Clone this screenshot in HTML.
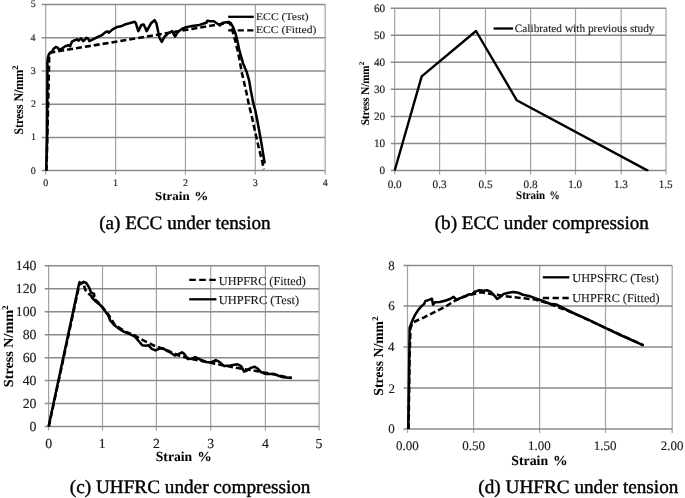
<!DOCTYPE html>
<html><head><meta charset="utf-8"><style>
html,body{margin:0;padding:0;background:#fff;}
body{width:685px;height:498px;overflow:hidden;}
svg{display:block;filter:grayscale(1) blur(0.35px);}
text{font-family:'Liberation Serif', serif;text-rendering:geometricPrecision;}
.cap{stroke-width:0.4px;fill:#000;stroke:#000}
.tick{stroke-width:0.15px;fill:#1a1a1a;stroke:#1a1a1a}
.leg{stroke-width:0.12px;fill:#1a1a1a;stroke:#1a1a1a}
.ttl{stroke-width:0.05px;fill:#000;stroke:#000}
</style></head><body>
<svg width="685" height="498" viewBox="0 0 685 498">
<rect width="685" height="498" fill="#fff"/>
<line x1="45.70" y1="4.50" x2="45.70" y2="174.60" stroke="#a2a2a2" stroke-width="1.2"/>
<line x1="115.58" y1="4.50" x2="115.58" y2="174.60" stroke="#a2a2a2" stroke-width="1.2"/>
<line x1="185.45" y1="4.50" x2="185.45" y2="174.60" stroke="#a2a2a2" stroke-width="1.2"/>
<line x1="255.32" y1="4.50" x2="255.32" y2="174.60" stroke="#a2a2a2" stroke-width="1.2"/>
<line x1="325.20" y1="4.50" x2="325.20" y2="174.60" stroke="#a2a2a2" stroke-width="1.2"/>
<line x1="41.70" y1="170.60" x2="325.20" y2="170.60" stroke="#8a8a8a" stroke-width="1.5"/>
<line x1="41.70" y1="137.38" x2="325.20" y2="137.38" stroke="#8a8a8a" stroke-width="1.5"/>
<line x1="41.70" y1="104.16" x2="325.20" y2="104.16" stroke="#8a8a8a" stroke-width="1.5"/>
<line x1="41.70" y1="70.94" x2="325.20" y2="70.94" stroke="#8a8a8a" stroke-width="1.5"/>
<line x1="41.70" y1="37.72" x2="325.20" y2="37.72" stroke="#8a8a8a" stroke-width="1.5"/>
<line x1="41.70" y1="4.50" x2="325.20" y2="4.50" stroke="#8a8a8a" stroke-width="1.5"/>
<text class="tick" x="35.78" y="173.50" font-size="10" text-anchor="end">0</text>
<text class="tick" x="36.00" y="140.28" font-size="10" text-anchor="end">1</text>
<text class="tick" x="35.95" y="107.06" font-size="10" text-anchor="end">2</text>
<text class="tick" x="35.79" y="73.84" font-size="10" text-anchor="end">3</text>
<text class="tick" x="35.56" y="40.62" font-size="10" text-anchor="end">4</text>
<text class="tick" x="35.79" y="7.40" font-size="10" text-anchor="end">5</text>
<text class="tick" x="43.20" y="186.00" font-size="10">0</text>
<text class="tick" x="112.94" y="186.00" font-size="10">1</text>
<text class="tick" x="183.01" y="186.00" font-size="10">2</text>
<text class="tick" x="252.78" y="186.00" font-size="10">3</text>
<text class="tick" x="322.68" y="186.00" font-size="10">4</text>
<text class="ttl" x="155.11" y="200.00" font-size="12.2" font-weight="bold" textLength="34.48" lengthAdjust="spacingAndGlyphs">Strain</text>
<text class="ttl" x="194.25" y="200.00" font-size="12.2" font-weight="bold" textLength="14.18" lengthAdjust="spacingAndGlyphs">%</text>
<text class="ttl" transform="translate(22.60,133.90) rotate(-90)" font-size="13.0" font-weight="bold"><tspan x="-0.63" y="0" textLength="64.63" lengthAdjust="spacingAndGlyphs">Stress N/mm</tspan><tspan x="64.20" y="-4.20" font-size="8.6">2</tspan></text>
<clipPath id="ca"><rect x="42.70" y="1.50" width="285.50" height="169.90"/></clipPath><g clip-path="url(#ca)">
<path d="M46.5,170.6 L47.5,130.0 L48.5,90.0 L49.2,57.0 L49.8,53.5 L51.4,52.5 L229.6,22.5 L232.0,29.1 L234.4,37.5 L236.8,47.2 L239.2,58.0 L241.9,73.1 L246.1,91.1 L249.1,105.6 L251.5,115.0 L254.6,129.6 L259.1,149.1 L262.4,162.2 L263.7,169.3" fill="none" stroke="#000" stroke-width="2.55" stroke-linejoin="round" stroke-linecap="butt" stroke-dasharray="6 3"/>
<path d="M46.2,170.6 L46.8,150.0 L47.2,130.0 L47.3,100.0 L47.4,80.0 L47.4,62.0 L47.8,58.0 L48.6,55.0 L50.2,52.5 L52.0,51.8 L53.5,48.9 L55.7,47.1 L57.5,47.5 L59.3,50.1 L61.7,48.7 L65.3,46.3 L68.3,45.1 L70.1,46.3 L71.9,41.7 L74.9,40.2 L77.3,39.3 L78.6,40.7 L81.0,38.3 L83.4,41.1 L86.4,37.8 L88.2,38.7 L89.4,41.1 L93.0,39.3 L96.6,37.5 L101.4,35.4 L105.7,32.0 L107.5,31.4 L108.7,32.7 L112.3,29.6 L117.2,26.9 L122.0,25.9 L125.7,24.2 L129.3,23.3 L134.7,21.8 L135.9,23.3 L138.3,31.1 L141.3,25.1 L143.7,24.5 L146.7,31.1 L151.0,23.3 L154.6,20.2 L156.4,23.3 L158.2,31.7 L159.4,37.7 L161.8,41.9 L164.2,37.1 L167.8,33.5 L172.0,31.1 L175.1,36.5 L177.5,32.3 L182.3,28.7 L186.0,27.2 L192.2,26.1 L199.5,24.9 L203.1,23.7 L206.7,22.5 L207.3,20.7 L210.3,21.3 L213.9,21.3 L217.5,23.7 L219.9,25.5 L222.3,23.1 L224.8,22.5 L228.4,21.9 L230.8,23.1 L233.2,27.3 L235.6,33.9 L237.4,41.1 L239.2,49.6 L240.7,55.0 L243.1,63.4 L246.7,71.9 L249.1,80.3 L250.9,91.1 L253.3,103.2 L255.2,110.0 L257.8,123.0 L260.4,137.4 L262.4,149.1 L264.7,163.5" fill="none" stroke="#000" stroke-width="2.55" stroke-linejoin="round" stroke-linecap="butt"/>
</g>
<path d="M228.2,16.8 L253.8,16.8" fill="none" stroke="#000" stroke-width="2.3" stroke-linejoin="round" stroke-linecap="butt"/>
<path d="M228.2,30.4 L253.5,30.4" fill="none" stroke="#000" stroke-width="2.3" stroke-linejoin="round" stroke-linecap="butt" stroke-dasharray="6.2 3.3"/>
<text class="leg" x="255.97" y="20.10" font-size="10.3" font-weight="normal" textLength="52.74" lengthAdjust="spacingAndGlyphs">ECC (Test)</text>
<text class="leg" x="255.96" y="33.30" font-size="10.3" font-weight="normal" textLength="60.45" lengthAdjust="spacingAndGlyphs">ECC (Fitted)</text>
<line x1="394.70" y1="8.20" x2="394.70" y2="174.50" stroke="#a2a2a2" stroke-width="1.2"/>
<line x1="439.60" y1="8.20" x2="439.60" y2="174.50" stroke="#a2a2a2" stroke-width="1.2"/>
<line x1="485.50" y1="8.20" x2="485.50" y2="174.50" stroke="#a2a2a2" stroke-width="1.2"/>
<line x1="530.60" y1="8.20" x2="530.60" y2="174.50" stroke="#a2a2a2" stroke-width="1.2"/>
<line x1="575.50" y1="8.20" x2="575.50" y2="174.50" stroke="#a2a2a2" stroke-width="1.2"/>
<line x1="621.20" y1="8.20" x2="621.20" y2="174.50" stroke="#a2a2a2" stroke-width="1.2"/>
<line x1="666.00" y1="8.20" x2="666.00" y2="174.50" stroke="#a2a2a2" stroke-width="1.2"/>
<line x1="390.70" y1="170.50" x2="666.00" y2="170.50" stroke="#8a8a8a" stroke-width="1.5"/>
<line x1="390.70" y1="143.45" x2="666.00" y2="143.45" stroke="#8a8a8a" stroke-width="1.5"/>
<line x1="390.70" y1="116.40" x2="666.00" y2="116.40" stroke="#8a8a8a" stroke-width="1.5"/>
<line x1="390.70" y1="89.35" x2="666.00" y2="89.35" stroke="#8a8a8a" stroke-width="1.5"/>
<line x1="390.70" y1="62.30" x2="666.00" y2="62.30" stroke="#8a8a8a" stroke-width="1.5"/>
<line x1="390.70" y1="35.25" x2="666.00" y2="35.25" stroke="#8a8a8a" stroke-width="1.5"/>
<line x1="390.70" y1="8.20" x2="666.00" y2="8.20" stroke="#8a8a8a" stroke-width="1.5"/>
<text class="tick" x="385.13" y="174.20" font-size="11.2" text-anchor="end">0</text>
<text class="tick" x="385.13" y="147.15" font-size="11.2" text-anchor="end">10</text>
<text class="tick" x="385.13" y="120.10" font-size="11.2" text-anchor="end">20</text>
<text class="tick" x="385.13" y="93.05" font-size="11.2" text-anchor="end">30</text>
<text class="tick" x="385.13" y="66.00" font-size="11.2" text-anchor="end">40</text>
<text class="tick" x="385.13" y="38.95" font-size="11.2" text-anchor="end">50</text>
<text class="tick" x="385.13" y="11.90" font-size="11.2" text-anchor="end">60</text>
<text class="tick" x="387.70" y="187.90" font-size="11.2">0.0</text>
<text class="tick" x="432.61" y="187.90" font-size="11.2">0.3</text>
<text class="tick" x="478.51" y="187.90" font-size="11.2">0.5</text>
<text class="tick" x="523.60" y="187.90" font-size="11.2">0.8</text>
<text class="tick" x="568.22" y="187.90" font-size="11.2">1.0</text>
<text class="tick" x="613.93" y="187.90" font-size="11.2">1.3</text>
<text class="tick" x="658.73" y="187.90" font-size="11.2">1.5</text>
<text class="ttl" x="516.12" y="199.40" font-size="11.8" font-weight="bold" textLength="29.04" lengthAdjust="spacingAndGlyphs">Strain</text>
<text class="ttl" x="549.45" y="199.40" font-size="11.8" font-weight="bold" textLength="10.20" lengthAdjust="spacingAndGlyphs">%</text>
<text class="ttl" transform="translate(368.60,124.70) rotate(-90)" font-size="11.6" font-weight="bold"><tspan x="-0.58" y="0" textLength="59.77" lengthAdjust="spacingAndGlyphs">Stress N/mm</tspan><tspan x="59.39" y="-4.80" font-size="7.2">2</tspan></text>
<clipPath id="cb"><rect x="391.70" y="5.20" width="277.30" height="166.10"/></clipPath><g clip-path="url(#cb)">
<path d="M394.7,170.5 L421.7,76.4 L476.0,31.0 L516.7,100.2 L648.2,170.9" fill="none" stroke="#000" stroke-width="2.4" stroke-linejoin="round" stroke-linecap="butt"/>
</g>
<path d="M493.6,28.5 L513.1,28.5" fill="none" stroke="#000" stroke-width="2.3" stroke-linejoin="round" stroke-linecap="butt"/>
<text class="leg" x="514.73" y="31.60" font-size="11.2" font-weight="normal" textLength="139.81" lengthAdjust="spacingAndGlyphs">Calibrated with previous study</text>
<line x1="48.60" y1="265.80" x2="48.60" y2="430.50" stroke="#a2a2a2" stroke-width="1.2"/>
<line x1="102.50" y1="265.80" x2="102.50" y2="430.50" stroke="#a2a2a2" stroke-width="1.2"/>
<line x1="156.40" y1="265.80" x2="156.40" y2="430.50" stroke="#a2a2a2" stroke-width="1.2"/>
<line x1="210.70" y1="265.80" x2="210.70" y2="430.50" stroke="#a2a2a2" stroke-width="1.2"/>
<line x1="265.40" y1="265.80" x2="265.40" y2="430.50" stroke="#a2a2a2" stroke-width="1.2"/>
<line x1="319.10" y1="265.80" x2="319.10" y2="430.50" stroke="#a2a2a2" stroke-width="1.2"/>
<line x1="44.70" y1="426.50" x2="319.20" y2="426.50" stroke="#8a8a8a" stroke-width="1.5"/>
<line x1="44.70" y1="403.54" x2="319.20" y2="403.54" stroke="#8a8a8a" stroke-width="1.5"/>
<line x1="44.70" y1="380.59" x2="319.20" y2="380.59" stroke="#8a8a8a" stroke-width="1.5"/>
<line x1="44.70" y1="357.63" x2="319.20" y2="357.63" stroke="#8a8a8a" stroke-width="1.5"/>
<line x1="44.70" y1="334.67" x2="319.20" y2="334.67" stroke="#8a8a8a" stroke-width="1.5"/>
<line x1="44.70" y1="311.71" x2="319.20" y2="311.71" stroke="#8a8a8a" stroke-width="1.5"/>
<line x1="44.70" y1="288.76" x2="319.20" y2="288.76" stroke="#8a8a8a" stroke-width="1.5"/>
<line x1="44.70" y1="265.80" x2="319.20" y2="265.80" stroke="#8a8a8a" stroke-width="1.5"/>
<text class="tick" x="36.53" y="431.05" font-size="13.8" text-anchor="end">0</text>
<text class="tick" x="36.53" y="408.09" font-size="13.8" text-anchor="end">20</text>
<text class="tick" x="36.53" y="385.14" font-size="13.8" text-anchor="end">40</text>
<text class="tick" x="36.53" y="362.18" font-size="13.8" text-anchor="end">60</text>
<text class="tick" x="36.53" y="339.22" font-size="13.8" text-anchor="end">80</text>
<text class="tick" x="36.53" y="316.26" font-size="13.8" text-anchor="end">100</text>
<text class="tick" x="36.53" y="293.31" font-size="13.8" text-anchor="end">120</text>
<text class="tick" x="36.53" y="270.35" font-size="13.8" text-anchor="end">140</text>
<text class="tick" x="45.15" y="448.00" font-size="13.8">0</text>
<text class="tick" x="98.86" y="448.00" font-size="13.8">1</text>
<text class="tick" x="153.03" y="448.00" font-size="13.8">2</text>
<text class="tick" x="207.19" y="448.00" font-size="13.8">3</text>
<text class="tick" x="261.92" y="448.00" font-size="13.8">4</text>
<text class="tick" x="315.52" y="448.00" font-size="13.8">5</text>
<text class="ttl" x="155.77" y="460.80" font-size="13.8" font-weight="bold" textLength="36.33" lengthAdjust="spacingAndGlyphs">Strain</text>
<text class="ttl" x="197.21" y="460.80" font-size="13.8" font-weight="bold" textLength="14.56" lengthAdjust="spacingAndGlyphs">%</text>
<text class="ttl" transform="translate(12.60,386.40) rotate(-90)" font-size="13.8" font-weight="bold"><tspan x="-0.75" y="0" textLength="77.09" lengthAdjust="spacingAndGlyphs">Stress N/mm</tspan><tspan x="76.54" y="-4.60" font-size="8.6">2</tspan></text>
<clipPath id="cc"><rect x="45.70" y="262.80" width="276.50" height="164.50"/></clipPath><g clip-path="url(#cc)">
<path d="M48.8,426.5 L79.6,283.5 L83.3,282.8 L85.3,289.9 L88.5,293.5 L94.0,298.5 L100.0,304.0 L108.0,314.0 L114.5,324.5 L124.1,331.0 L134.9,335.5 L139.8,338.6 L145.8,341.6 L153.0,345.2 L157.8,347.0 L167.5,350.5 L179.6,355.8 L194.1,359.5 L218.2,364.3 L237.5,368.0 L255.7,370.9 L270.0,373.5 L291.8,378.1" fill="none" stroke="#000" stroke-width="2.55" stroke-linejoin="round" stroke-linecap="butt" stroke-dasharray="6 3"/>
<path d="M48.6,426.5 L79.2,283.0 L79.6,282.2 L81.5,283.5 L83.7,281.8 L86.1,283.0 L86.9,283.8 L89.3,287.9 L90.9,292.3 L94.1,293.9 L94.3,295.9 L91.9,297.6 L94.9,300.7 L98.9,303.9 L100.0,304.8 L104.8,310.8 L108.4,315.7 L110.2,320.5 L114.5,325.3 L119.3,328.9 L124.1,331.9 L128.9,333.7 L134.9,336.7 L138.6,341.0 L142.2,345.2 L145.8,345.8 L148.2,345.2 L151.8,348.8 L155.4,350.4 L159.0,348.8 L162.7,348.2 L167.5,351.2 L170.0,352.3 L174.8,355.5 L178.4,354.1 L182.0,352.3 L184.5,354.1 L187.5,358.9 L191.7,358.7 L195.3,357.1 L200.1,359.5 L206.1,361.9 L211.0,362.5 L215.8,360.1 L219.4,361.9 L224.2,366.1 L230.2,365.5 L237.5,364.3 L241.1,366.1 L244.1,371.6 L247.2,370.3 L250.8,367.9 L254.5,366.7 L257.5,368.5 L261.1,372.1 L265.3,373.9 L273.7,373.9 L278.6,375.7 L283.4,377.3 L291.8,378.1" fill="none" stroke="#000" stroke-width="2.55" stroke-linejoin="round" stroke-linecap="butt"/>
</g>
<path d="M189.2,279.9 L215.8,279.9" fill="none" stroke="#000" stroke-width="2.3" stroke-linejoin="round" stroke-linecap="butt" stroke-dasharray="6.6 3.4"/>
<path d="M189.2,299.3 L216.4,299.3" fill="none" stroke="#000" stroke-width="2.3" stroke-linejoin="round" stroke-linecap="butt"/>
<text class="leg" x="218.84" y="284.60" font-size="12.1" font-weight="normal" textLength="87.09" lengthAdjust="spacingAndGlyphs">UHPFRC (Fitted)</text>
<text class="leg" x="218.84" y="303.60" font-size="12.1" font-weight="normal" textLength="80.30" lengthAdjust="spacingAndGlyphs">UHPFRC (Test)</text>
<line x1="407.50" y1="265.50" x2="407.50" y2="432.90" stroke="#a2a2a2" stroke-width="1.2"/>
<line x1="473.60" y1="265.50" x2="473.60" y2="432.90" stroke="#a2a2a2" stroke-width="1.2"/>
<line x1="539.60" y1="265.50" x2="539.60" y2="432.90" stroke="#a2a2a2" stroke-width="1.2"/>
<line x1="605.50" y1="265.50" x2="605.50" y2="432.90" stroke="#a2a2a2" stroke-width="1.2"/>
<line x1="672.20" y1="265.50" x2="672.20" y2="432.90" stroke="#a2a2a2" stroke-width="1.2"/>
<line x1="403.50" y1="428.90" x2="672.20" y2="428.90" stroke="#8a8a8a" stroke-width="1.5"/>
<line x1="403.50" y1="388.10" x2="672.20" y2="388.10" stroke="#8a8a8a" stroke-width="1.5"/>
<line x1="403.50" y1="346.90" x2="672.20" y2="346.90" stroke="#8a8a8a" stroke-width="1.5"/>
<line x1="403.50" y1="305.90" x2="672.20" y2="305.90" stroke="#8a8a8a" stroke-width="1.5"/>
<line x1="403.50" y1="265.50" x2="672.20" y2="265.50" stroke="#8a8a8a" stroke-width="1.5"/>
<text class="tick" x="394.80" y="433.30" font-size="13" text-anchor="end">0</text>
<text class="tick" x="395.02" y="392.50" font-size="13" text-anchor="end">2</text>
<text class="tick" x="394.50" y="351.30" font-size="13" text-anchor="end">4</text>
<text class="tick" x="394.69" y="310.30" font-size="13" text-anchor="end">6</text>
<text class="tick" x="394.80" y="269.90" font-size="13" text-anchor="end">8</text>
<text class="tick" x="396.12" y="450.05" font-size="13">0.00</text>
<text class="tick" x="462.23" y="450.05" font-size="13">0.50</text>
<text class="tick" x="527.90" y="450.05" font-size="13">1.00</text>
<text class="tick" x="593.80" y="450.05" font-size="13">1.50</text>
<text class="tick" x="660.79" y="450.05" font-size="13">2.00</text>
<text class="ttl" x="511.37" y="465.30" font-size="13.8" font-weight="bold" textLength="36.74" lengthAdjust="spacingAndGlyphs">Strain</text>
<text class="ttl" x="553.09" y="465.30" font-size="13.8" font-weight="bold" textLength="14.68" lengthAdjust="spacingAndGlyphs">%</text>
<text class="ttl" transform="translate(382.80,395.00) rotate(-90)" font-size="13.8" font-weight="bold"><tspan x="-0.73" y="0" textLength="74.76" lengthAdjust="spacingAndGlyphs">Stress N/mm</tspan><tspan x="74.23" y="-4.60" font-size="8.6">2</tspan></text>
<clipPath id="cd"><rect x="404.50" y="262.50" width="270.70" height="167.20"/></clipPath><g clip-path="url(#cd)">
<path d="M408.6,428.9 L409.5,360.0 L410.5,328.0 L412.5,322.8 L413.3,322.2 L424.1,317.3 L436.1,311.3 L445.8,306.5 L453.0,301.7 L460.0,298.0 L470.0,294.7 L482.0,292.3 L488.1,293.5 L500.1,295.3 L512.2,297.1 L524.2,298.3 L535.1,299.5 L550.0,304.0 L572.1,312.5 L604.2,327.3 L643.6,345.4" fill="none" stroke="#000" stroke-width="2.55" stroke-linejoin="round" stroke-linecap="butt" stroke-dasharray="6 3"/>
<path d="M408.3,428.9 L409.0,380.0 L409.5,340.0 L409.6,328.2 L410.8,324.6 L412.7,319.8 L415.1,314.9 L418.1,310.1 L421.7,305.9 L424.1,304.1 L425.3,301.1 L428.9,299.9 L431.9,298.7 L433.1,304.7 L434.9,302.3 L439.8,301.9 L445.8,300.5 L449.4,299.3 L453.6,296.9 L456.6,299.9 L460.2,298.1 L465.1,296.3 L468.7,294.5 L472.3,293.9 L474.8,291.7 L479.6,290.2 L483.3,290.7 L486.9,290.2 L490.5,291.7 L494.1,295.3 L497.1,298.9 L500.1,297.1 L503.7,293.9 L508.6,292.7 L513.4,292.0 L518.2,292.7 L523.0,294.7 L529.0,295.9 L535.1,298.3 L542.3,300.7 L550.0,303.7 L556.1,304.5 L572.1,312.5 L588.2,319.7 L604.2,327.3 L620.3,335.0 L643.6,345.4" fill="none" stroke="#000" stroke-width="2.55" stroke-linejoin="round" stroke-linecap="butt"/>
</g>
<path d="M542.8,277.3 L569.3,277.3" fill="none" stroke="#000" stroke-width="2.3" stroke-linejoin="round" stroke-linecap="butt"/>
<path d="M542.8,298.0 L568.7,298.0" fill="none" stroke="#000" stroke-width="2.3" stroke-linejoin="round" stroke-linecap="butt" stroke-dasharray="6.3 3.5"/>
<text class="leg" x="572.24" y="282.20" font-size="12.1" font-weight="normal" textLength="86.59" lengthAdjust="spacingAndGlyphs">UHPSFRC (Test)</text>
<text class="leg" x="572.24" y="301.70" font-size="12.1" font-weight="normal" textLength="87.29" lengthAdjust="spacingAndGlyphs">UHPFRC (Fitted)</text>
<text class="cap" x="99.16" y="229.00" font-size="19" font-weight="normal" textLength="171.53" lengthAdjust="spacingAndGlyphs">(a) ECC under tension</text>
<text class="cap" x="434.76" y="228.90" font-size="19" font-weight="normal" textLength="214.13" lengthAdjust="spacingAndGlyphs">(b) ECC under compression</text>
<text class="cap" x="69.76" y="492.60" font-size="19" font-weight="normal" textLength="240.74" lengthAdjust="spacingAndGlyphs">(c) UHFRC under compression</text>
<text class="cap" x="478.36" y="492.50" font-size="19" font-weight="normal" textLength="200.03" lengthAdjust="spacingAndGlyphs">(d) UHFRC under tension</text>
</svg>
</body></html>
